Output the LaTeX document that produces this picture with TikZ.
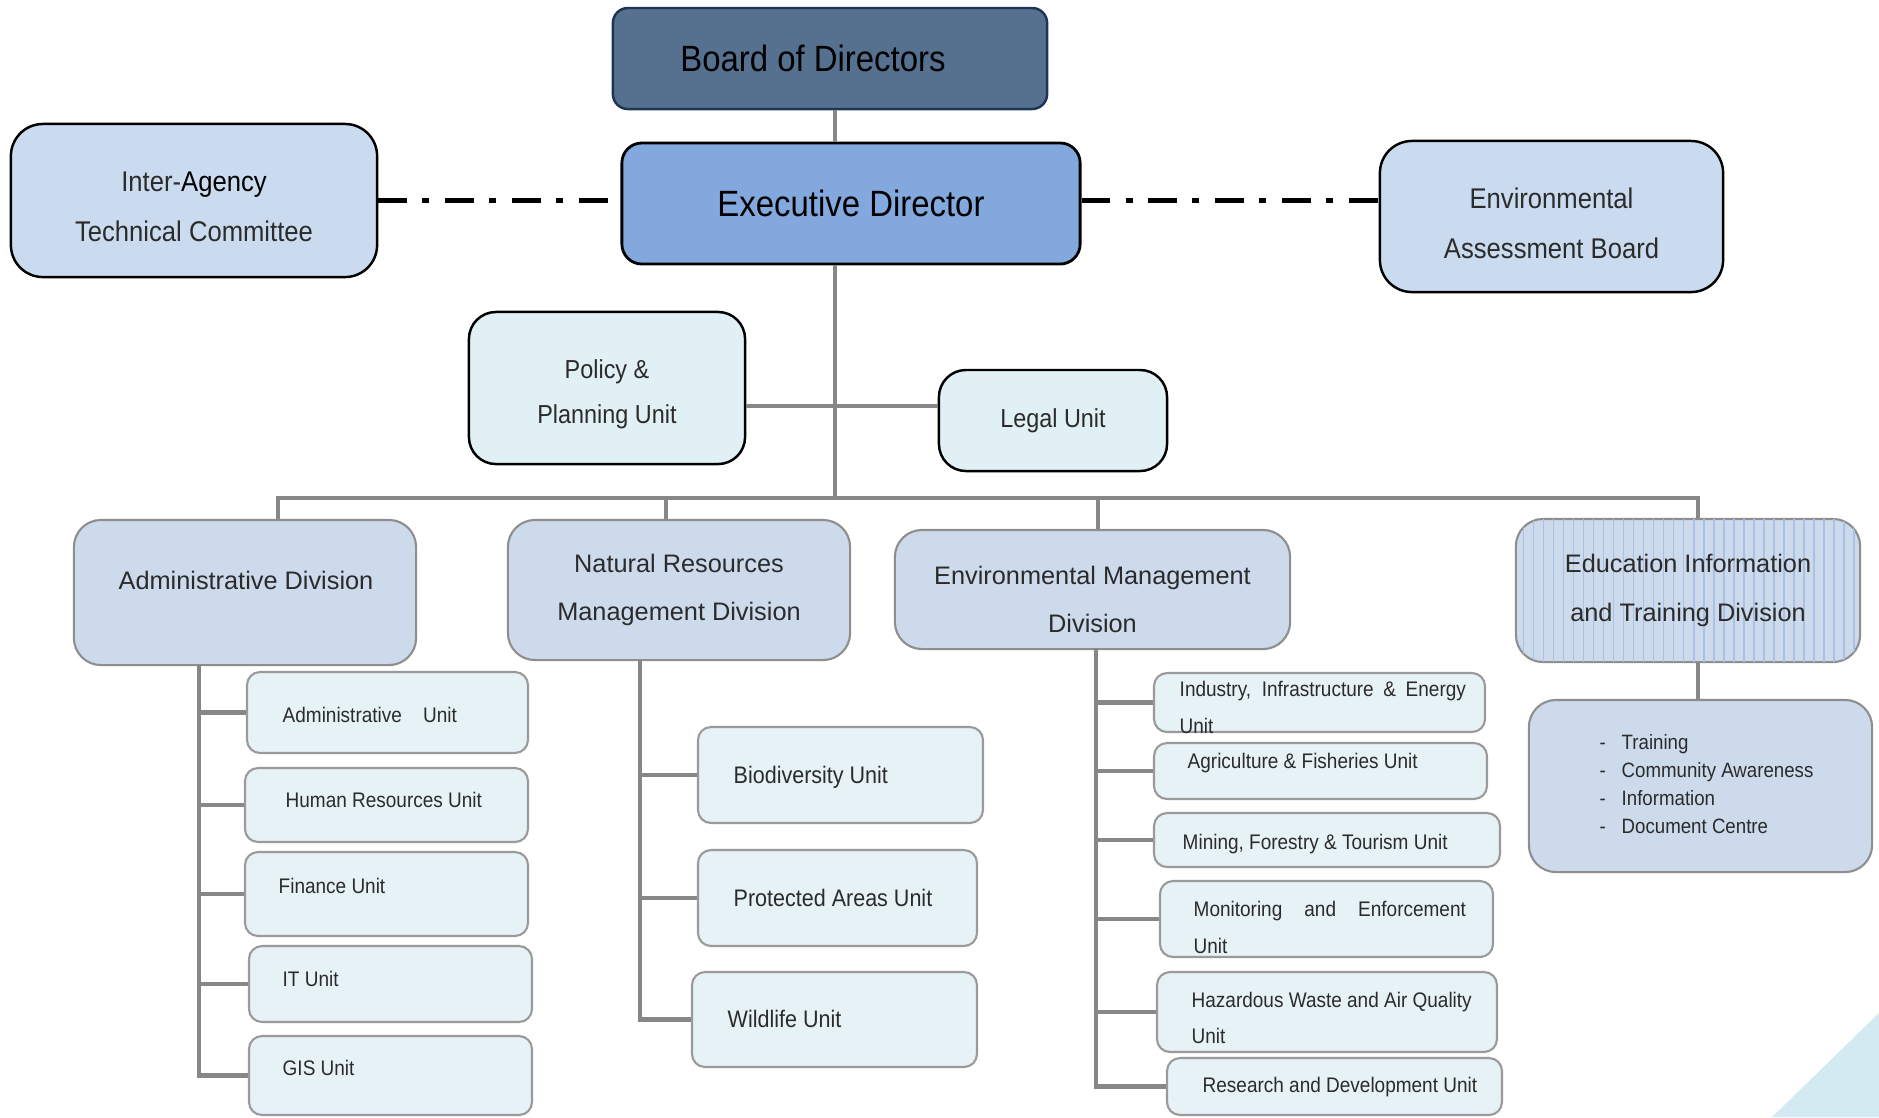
\documentclass[tikz,border=0pt]{standalone}
\usepackage{fontspec}
\setmainfont{Liberation Sans}
\newfontfamily\narrowfont{Liberation Sans}[FakeStretch=0.9]
\usetikzlibrary{fit, patterns.meta}

\definecolor{linkgray}{HTML}{878787}
\definecolor{boardfill}{HTML}{56708F}
\definecolor{boardline}{HTML}{1F3556}
\definecolor{execfill}{HTML}{82A8DE}
\definecolor{sidefill}{HTML}{CADBEF}
\definecolor{policyfill}{HTML}{E0F0F5}
\definecolor{divfill}{HTML}{CCDAEB}
\definecolor{divline}{HTML}{8E8E8E}
\definecolor{unitfill}{HTML}{E6F2F6}
\definecolor{unitline}{HTML}{9A9A9A}
\definecolor{edustripe}{HTML}{A9C1E4}
\definecolor{textgray}{HTML}{2B2B2B}
\definecolor{cornerblue}{HTML}{D3EAF2}

\begin{document}
\begin{tikzpicture}[x=0.01cm, y=-0.01cm,
  link/.style={draw=linkgray, line width=1.4pt},
  dashlink/.style={draw=black, line width=1.6pt, dash pattern=on 8.2pt off 4.3pt on 2pt off 4.5pt},
  boardbox/.style={draw=boardline, fill=boardfill, line width=0.7pt, rounded corners=0.15cm, inner sep=0pt},
  boardtext/.style={inner sep=0pt, font=\narrowfont\fontsize{10.4}{12}\selectfont},
  execbox/.style={draw=black, fill=execfill, line width=0.8pt, rounded corners=0.2cm, inner sep=0pt,
    font=\narrowfont\fontsize{10.4}{12}\selectfont},
  sidebox/.style={draw=black, fill=sidefill, line width=0.7pt, rounded corners=0.32cm, inner sep=0pt},
  sidetext/.style={inner sep=0pt, align=center, text=textgray, font=\narrowfont\fontsize{8.1}{14.2}\selectfont},
  pbox/.style={draw=black, fill=policyfill, line width=0.7pt, rounded corners=0.27cm, inner sep=0pt,
    align=center, text=textgray, font=\narrowfont\fontsize{7.4}{12.8}\selectfont},
  divbox/.style={draw=divline, fill=divfill, line width=0.6pt, rounded corners=0.27cm, inner sep=0pt,
    align=center, text=textgray, font=\fontsize{7.2}{13.7}\selectfont},
  divtext/.style={inner sep=0pt, align=center, text=textgray, font=\fontsize{7.2}{13.7}\selectfont},
  unitbox/.style={draw=unitline, fill=unitfill, line width=0.6pt, rounded corners=0.13cm, inner sep=0pt},
  unittext/.style={anchor=base west, inner sep=0pt, text=textgray, font=\narrowfont\fontsize{6}{7}\selectfont},
  nrmtext/.style={unittext, font=\narrowfont\fontsize{6.8}{8}\selectfont}]

\useasboundingbox (0,0) rectangle (1879,1117);
\fill[cornerblue] (1879,1013) -- (1772,1117) -- (1879,1117) -- cycle;

% top of the chart
\node[boardbox, minimum width=4.34cm, minimum height=1.01cm] (board) at (830,58.5) {};
\node[boardtext] (boardt) at ([xshift=-0.17cm]board.center) {Board of Directors};
\node[execbox, minimum width=4.58cm, minimum height=1.21cm] (exec) at (851,203.5) {Executive Director};
\node[sidebox, minimum width=3.66cm, minimum height=1.53cm] (iatc) at (194,200.5) {};
\node[sidetext] (iatct) at ([yshift=-0.06cm]iatc.center) {Inter-\textcolor{black}{Agency}\\Technical Committee};
\node[sidebox, minimum width=3.43cm, minimum height=1.51cm] (eab) at (1551.5,216.5) {};
\node[sidetext] (eabt) at ([yshift=-0.07cm]eab.center) {Environmental\\Assessment Board};
\node[pbox, minimum width=2.76cm, minimum height=1.52cm] (policy) at (607,388) {};
\node[pbox, draw=none, fill=none] (policyt) at ([yshift=-0.06cm]policy.center) {Policy \&\\Planning Unit};
\node[pbox, minimum width=2.28cm, minimum height=1.01cm] (legal) at (1053,420.5) {Legal Unit};

% divisions
\node[divbox, minimum width=3.42cm, minimum height=1.45cm] (admdiv) at (245,592.5) {};
\node[divtext] (admdivt) at (246,580) {Administrative Division};
\node[divbox, minimum width=3.42cm, minimum height=1.40cm] (nrmdiv) at (679,590) {Natural Resources\\Management Division};
\node[divbox, minimum width=3.95cm, minimum height=1.19cm] (emdiv) at (1092.5,589.5) {};
\node[divtext] (emdivt) at ([yshift=-0.1cm]emdiv.center) {Environmental Management\\Division};
\node[divbox, minimum width=3.44cm, minimum height=1.43cm,
  postaction={pattern={Lines[angle=90, distance=2.85pt, line width=0.4pt]}, pattern color=edustripe}] (edudiv) at (1688,590.5) {Education Information\\and Training Division};
\node[divbox, minimum width=3.43cm, minimum height=1.72cm] (edulist) at (1700.5,786) {};
\node[unittext, font=\narrowfont\fontsize{5.9}{7}\selectfont] (edu1) at (1599,749) {\makebox[0.22cm][l]{-}Training};
\node[unittext, font=\narrowfont\fontsize{5.9}{7}\selectfont] (edu2) at (1599,777) {\makebox[0.22cm][l]{-}Community Awareness};
\node[unittext, font=\narrowfont\fontsize{5.9}{7}\selectfont] (edu3) at (1599,805) {\makebox[0.22cm][l]{-}Information};
\node[unittext, font=\narrowfont\fontsize{5.9}{7}\selectfont] (edu4) at (1599,833) {\makebox[0.22cm][l]{-}Document Centre};

% administrative units
\node[unitbox, fit={(247,672) (528,753)}] (admu) {};
\node[unittext] (admut) at (282,722) {Administrative\quad Unit};
\node[unitbox, fit={(245,768) (528,842)}] (hru) {};
\node[unittext] (hrut) at (285,807) {Human Resources Unit};
\node[unitbox, fit={(245,852) (528,936)}] (finu) {};
\node[unittext] (finut) at (278,893) {Finance Unit};
\node[unitbox, fit={(249,946) (532,1022)}] (itu) {};
\node[unittext] (itut) at (282,986) {IT Unit};
\node[unitbox, fit={(249,1036) (532,1115)}] (gisu) {};
\node[unittext] (gisut) at (282,1075) {GIS Unit};

% natural resources units
\node[unitbox, fit={(698,727) (983,823)}] (biou) {};
\node[nrmtext] (biout) at (733,783) {Biodiversity Unit};
\node[unitbox, fit={(698,850) (977,946)}] (protu) {};
\node[nrmtext] (protut) at (733,906) {Protected Areas Unit};
\node[unitbox, fit={(692,972) (977,1067)}] (wildu) {};
\node[nrmtext] (wildut) at (727,1027) {Wildlife Unit};

% environmental management units
\node[unitbox, fit={(1154,673) (1485,732)}] (indu) {};
\node[unittext] (indut) at (1179,696) {\makebox[2.86cm][s]{Industry, Infrastructure \& Energy}};
\node[unittext] (indut2) at (1179,733) {Unit};
\node[unitbox, fit={(1154,743) (1487,799)}] (agru) {};
\node[unittext] (agrut) at (1187,768) {Agriculture \& Fisheries Unit};
\node[unitbox, fit={(1154,813) (1500,867)}] (minu) {};
\node[unittext] (minut) at (1182,849) {Mining, Forestry \& Tourism Unit};
\node[unitbox, fit={(1160,881) (1493,957)}] (monu) {};
\node[unittext] (monut) at (1193,916) {\makebox[2.72cm][s]{Monitoring and Enforcement}};
\node[unittext] (monut2) at (1193,953) {Unit};
\node[unitbox, fit={(1157,972) (1497,1052)}] (hazu) {};
\node[unittext] (hazut) at (1191,1007) {Hazardous Waste and Air Quality};
\node[unittext] (hazut2) at (1191,1043) {Unit};
\node[unitbox, fit={(1167,1058) (1502,1115)}] (rdu) {};
\node[unittext] (rdut) at (1202,1092) {Research and Development Unit};

% connectors
\coordinate (spine) at (835,498);
\coordinate (pl) at (835,406);
\coordinate (busA) at (278,498);
\coordinate (busB) at (666,498);
\coordinate (busC) at (1098,498);
\coordinate (busD) at (1698,498);
\coordinate (admx) at (199,665);
\coordinate (nrmx) at (640,660);
\coordinate (emx) at (1096,649);

\draw[link] (board.south -| spine) -- (exec.north -| spine);
\draw[link] (exec.south -| spine) -- (spine);
\draw[link] (policy.east |- pl) -- (legal.west |- pl);
\draw[link] (busA |- admdiv.north) -- (busA) -- (busD) -- (busD |- edudiv.north);
\draw[link] (busB) -- (busB |- nrmdiv.north);
\draw[link] (busC) -- (busC |- emdiv.north);
\draw[link] (busD |- edudiv.south) -- (busD |- edulist.north);
\draw[dashlink] (iatc.east) -- (exec.west |- iatc.east);
\draw[dashlink] (exec.east |- iatc.east) -- (eab.west |- iatc.east);

\draw[link] (admx) |- (gisu.west);
\draw[link] (admx |- admu.west) -- (admu.west);
\draw[link] (admx |- hru.west) -- (hru.west);
\draw[link] (admx |- finu.west) -- (finu.west);
\draw[link] (admx |- itu.west) -- (itu.west);

\draw[link] (nrmx) |- (wildu.west);
\draw[link] (nrmx |- biou.west) -- (biou.west);
\draw[link] (nrmx |- protu.west) -- (protu.west);

\draw[link] (emx) |- (rdu.west);
\draw[link] (emx |- indu.west) -- (indu.west);
\draw[link] (emx |- agru.west) -- (agru.west);
\draw[link] (emx |- minu.west) -- (minu.west);
\draw[link] (emx |- monu.west) -- (monu.west);
\draw[link] (emx |- hazu.west) -- (hazu.west);

\end{tikzpicture}
\end{document}
